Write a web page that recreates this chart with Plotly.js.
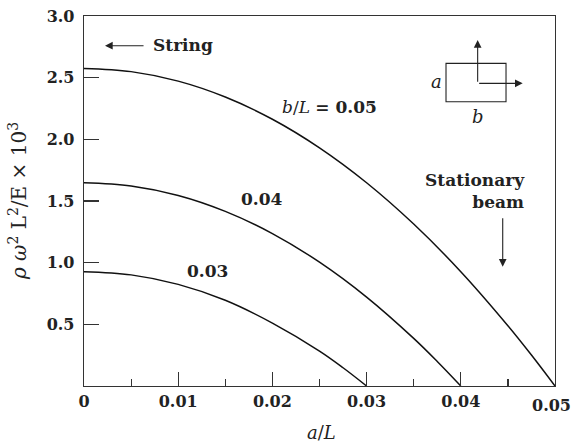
<!DOCTYPE html>
<html><head><meta charset="utf-8">
<script src="https://cdn.plot.ly/plotly-3.0.1.min.js"></script>
<style>html,body{margin:0;padding:0;background:#fff}#chart{width:574px;height:445px}</style>
</head><body><div id="chart"></div>
<script>
// b/L = 0.05
const x05 = [0, 0.005, 0.01, 0.015, 0.02, 0.025, 0.03, 0.035, 0.04, 0.045, 0.0475, 0.05];
const y05 = [2.575, 2.549, 2.472, 2.343, 2.163, 1.931, 1.648, 1.313, 0.927, 0.489, 0.251, 0];
// b/L = 0.04
const x04 = [0, 0.005, 0.01, 0.015, 0.02, 0.025, 0.03, 0.035, 0.0375, 0.04];
const y04 = [1.648, 1.622, 1.545, 1.416, 1.236, 1.004, 0.721, 0.386, 0.199, 0];
// b/L = 0.03
const x03 = [0, 0.005, 0.01, 0.015, 0.02, 0.025, 0.0275, 0.03];
const y03 = [0.927, 0.901, 0.824, 0.695, 0.510, 0.283, 0.148, 0];

const xTickVals = [0, 0.01, 0.02, 0.03, 0.04, 0.05];
const xTickText = ['0', '0.01', '0.02', '0.03', '0.04', '0.05'];
const xMinorVals = [0.005, 0.015, 0.025, 0.035, 0.045];
const yTickVals = [0, 0.5, 1.0, 1.5, 2.0, 2.5, 3.0];
const yTickText = ['', '0.5', '1.0', '1.5', '2.0', '2.5', '3.0'];

const F = 'DejaVu Serif';
const FS = 17;
const TFS = 16;
const B = (s) => s ? '<b>' + s + '</b>' : '';
const lineStyle = {color: '#111', width: 1.5};

const traces = [
  {x: x05, y: y05, mode: 'lines', line: Object.assign({shape: 'spline'}, lineStyle), hoverinfo: 'skip'},
  {x: x04, y: y04, mode: 'lines', line: Object.assign({shape: 'spline'}, lineStyle), hoverinfo: 'skip'},
  {x: x03, y: y03, mode: 'lines', line: Object.assign({shape: 'spline'}, lineStyle), hoverinfo: 'skip'}
];

function txt(x, y, text, extra) {
  return Object.assign({x: x, y: y, xref: 'x', yref: 'y', text: text, showarrow: false,
    font: {family: F, size: FS, color: '#222'}}, extra || {});
}
function arrow(xh, yh, xt, yt) {
  return {x: xh, y: yh, ax: xt, ay: yt, xref: 'x', yref: 'y', axref: 'x', ayref: 'y',
    text: '', showarrow: true, arrowhead: 2, arrowsize: 1.4, arrowwidth: 1.1, arrowcolor: '#222'};
}

// last x tick label is set right-anchored so it stays inside the page
const xShownText = xTickText.map((t, i) => i === xTickText.length - 1 ? '' : B(t));
const lastXLabel = {xref: 'paper', yref: 'paper', x: 1.0382, y: -0.0514, xanchor: 'right', yanchor: 'middle',
  showarrow: false, text: B(xTickText[xTickText.length - 1]), font: {family: F, size: TFS, color: '#222'}};

const layout = {
  width: 574, height: 445,
  margin: {l: 84, r: 19, t: 16, b: 59},
  paper_bgcolor: '#fff', plot_bgcolor: '#fff',
  showlegend: false,
  font: {family: F, size: FS, color: '#222'},
  xaxis: {
    range: [0, 0.0500001], tickvals: xTickVals, ticktext: xShownText,
    ticks: 'inside', ticklen: 14, tickwidth: 1.2, tickcolor: '#333',
    minor: {tickvals: xMinorVals, ticks: 'inside', ticklen: 7, tickwidth: 1.2, tickcolor: '#333', showgrid: false},
    showline: true, linecolor: '#333', linewidth: 1.3, mirror: true,
    showgrid: false, zeroline: false, fixedrange: true,
    tickfont: {family: F, size: TFS, color: '#222'}
  },
  yaxis: {
    range: [0, 3.0000001], tickvals: yTickVals, ticktext: yTickText.map(B),
    ticks: 'inside', ticklen: 15, tickwidth: 1.2, tickcolor: '#333',
    ticklabelstandoff: 5,
    showline: true, linecolor: '#333', linewidth: 1.3, mirror: true,
    showgrid: false, zeroline: false, fixedrange: true,
    tickfont: {family: F, size: TFS, color: '#222'}
  },
  annotations: [
    lastXLabel,
    // y-axis title
    {xref: 'paper', yref: 'paper', x: -0.14, y: 0.5, xanchor: 'center', yanchor: 'middle',
     textangle: -90, showarrow: false,
     text: '<i>ρ ω</i><sup>2</sup> L<sup>2</sup>/E × 10<sup>3</sup>',
     font: {family: F, size: 20, color: '#222'}},
    // x-axis title
    {xref: 'paper', yref: 'paper', x: 0.505, y: -0.127, yanchor: 'middle', showarrow: false,
     text: '<i>a</i>/<i>L</i>', font: {family: F, size: 18, color: '#222'}},
    // String
    arrow(0.00223, 2.759, 0.00648, 2.759),
    txt(0.01046, 2.766, B('String')),
    // curve labels
    txt(0.02606, 2.262, '<i>b</i>/<i>L</i> ' + B('= 0.05')),
    txt(0.01890, 1.516, B('0.04')),
    txt(0.01311, 0.932, B('0.03')),
    // inset
    arrow(0.04179, 2.805, 0.04179, 2.454),
    arrow(0.04657, 2.454, 0.04179, 2.454),
    txt(0.03744, 2.468, '<i>a</i>', {font: {family: F, size: 18, color: '#222'}}),
    txt(0.04179, 2.184, '<i>b</i>', {font: {family: F, size: 18, color: '#222'}}),
    // Stationary beam
    txt(0.04706, 1.585, B('Stationary') + '<br>' + B('beam'), {xanchor: 'right', align: 'right'}),
    arrow(0.04445, 0.967, 0.04445, 1.373)
  ],
  shapes: [
    {type: 'rect', xref: 'x', yref: 'y', x0: 0.03843, x1: 0.04480, y0: 2.305, y1: 2.616,
     line: {color: '#222', width: 1.1}}
  ]
};

Plotly.newPlot('chart', traces, layout, {staticPlot: true, displayModeBar: false});
</script></body></html>
